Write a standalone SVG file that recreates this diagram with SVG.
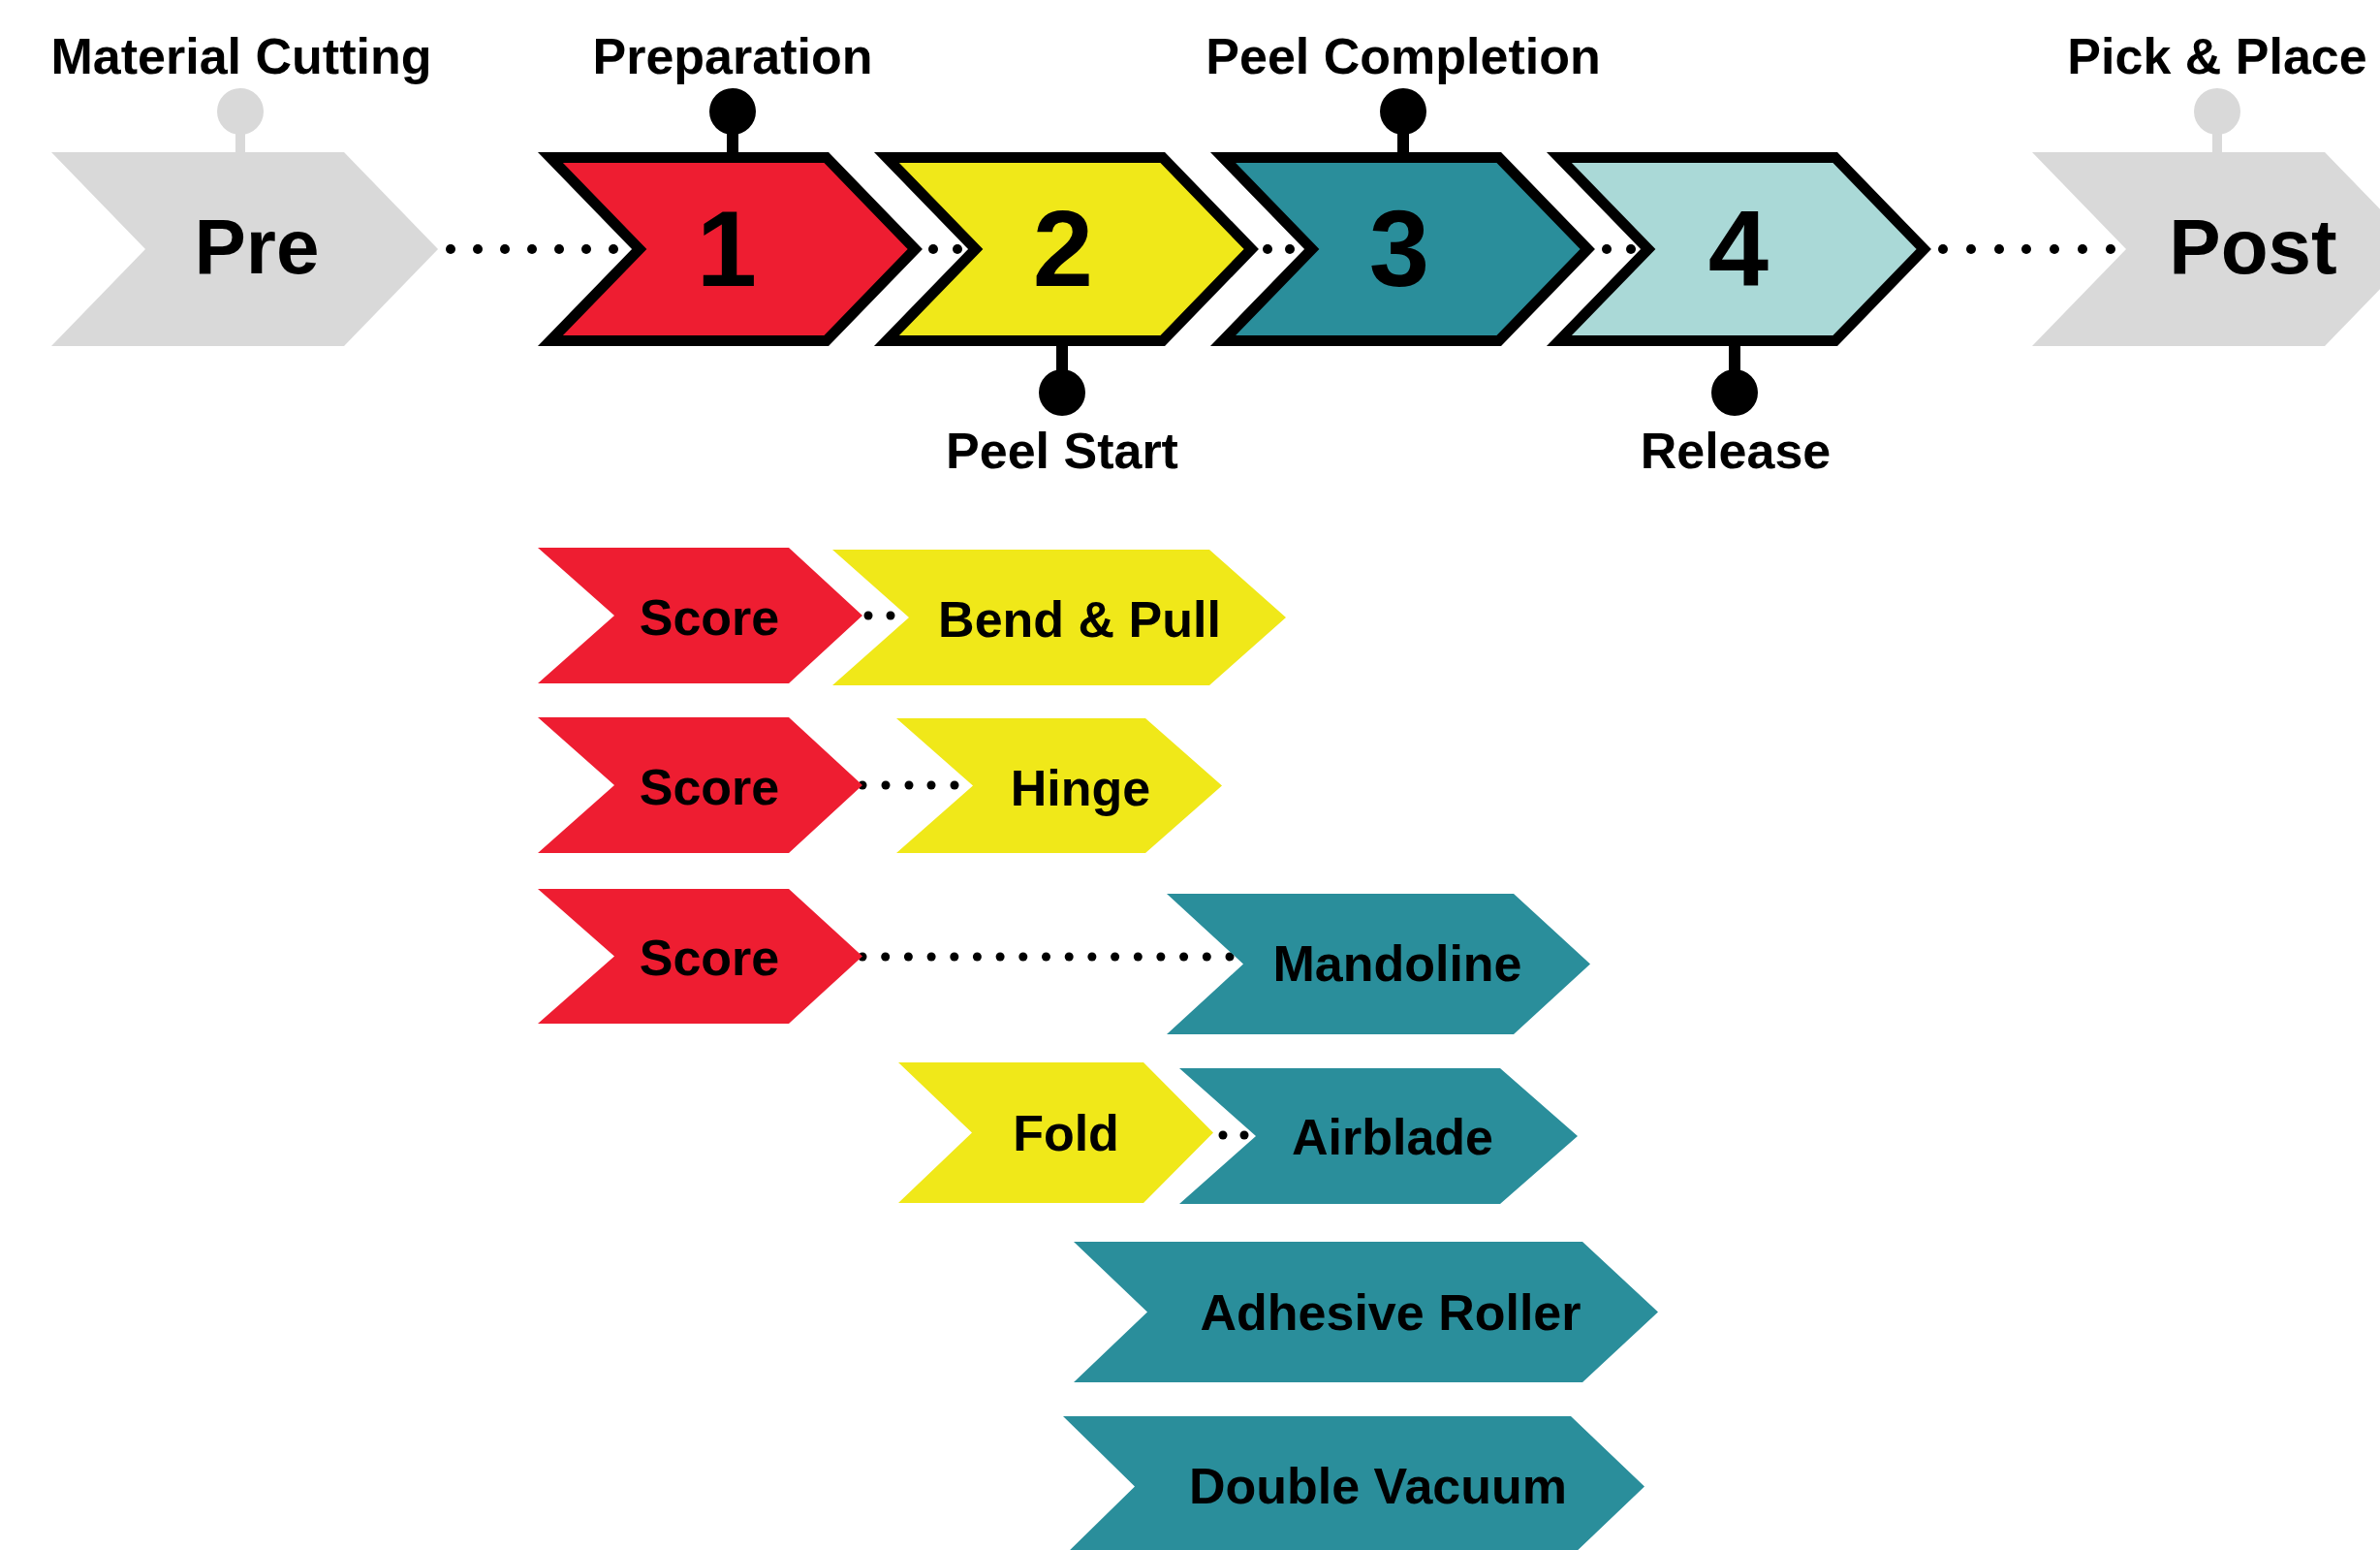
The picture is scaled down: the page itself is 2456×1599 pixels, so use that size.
<svg xmlns="http://www.w3.org/2000/svg" width="2456" height="1599" viewBox="0 0 2456 1599">
<style>
text{font-family:"Liberation Sans",Arial,Helvetica,sans-serif;font-weight:bold;fill:#000;text-anchor:middle}
.lbl{font-size:52px}
.num{font-size:112px}
.big{font-size:80px}
.sub{font-size:52px}
.bord{stroke:#000;stroke-width:11;stroke-linejoin:miter;stroke-miterlimit:10}
.red{fill:#EE1D31}
.yel{fill:#F0E819}
.teal{fill:#2A8E9B}
.lt{fill:#AAD9D7}
.gray{fill:#D9D9D9}
.dot{fill:#000}
.pinb{fill:#000}
.ping{fill:#D9D9D9}
</style>
<defs>
<path id="bigChev" d="M13,162.5 L297.7,162.5 L389.3,257 L297.7,351.5 L13,351.5 L104.7,257 Z"/>
<path id="grayChev" d="M0,157 L302,157 L399,257 L302,357 L0,357 L97,257 Z"/>
<circle id="dt" r="5"/>
<circle id="ds" r="4.5"/>
</defs>
<rect width="2456" height="1599" fill="#fff"/>

<g id="connectors" class="dot">
<g id="c-pre-1">
<use href="#dt" x="465" y="257"/><use href="#dt" x="493" y="257"/><use href="#dt" x="521" y="257"/><use href="#dt" x="549" y="257"/><use href="#dt" x="577" y="257"/><use href="#dt" x="605" y="257"/><use href="#dt" x="633" y="257"/>
</g>
<g id="c-1-2"><use href="#dt" x="963" y="257"/><use href="#dt" x="988" y="257"/></g>
<g id="c-2-3"><use href="#dt" x="1308" y="257"/><use href="#dt" x="1331" y="257"/></g>
<g id="c-3-4"><use href="#dt" x="1658" y="257"/><use href="#dt" x="1683" y="257"/></g>
<g id="c-4-post">
<use href="#dt" x="2005" y="257"/><use href="#dt" x="2034" y="257"/><use href="#dt" x="2063" y="257"/><use href="#dt" x="2091" y="257"/><use href="#dt" x="2120" y="257"/><use href="#dt" x="2149" y="257"/><use href="#dt" x="2178" y="257"/>
</g>
<g id="c-score-bend"><use href="#ds" x="896" y="635"/><use href="#ds" x="919" y="635"/></g>
<g id="c-score-hinge">
<use href="#ds" x="890" y="810"/><use href="#ds" x="914" y="810"/><use href="#ds" x="938" y="810"/><use href="#ds" x="961" y="810"/><use href="#ds" x="985" y="810"/>
</g>
<g id="c-score-mandoline">
<use href="#ds" x="890" y="987"/><use href="#ds" x="913.7" y="987"/><use href="#ds" x="937.4" y="987"/><use href="#ds" x="961.1" y="987"/><use href="#ds" x="984.8" y="987"/><use href="#ds" x="1008.4" y="987"/><use href="#ds" x="1032.1" y="987"/><use href="#ds" x="1055.8" y="987"/><use href="#ds" x="1079.5" y="987"/><use href="#ds" x="1103.2" y="987"/><use href="#ds" x="1126.9" y="987"/><use href="#ds" x="1150.6" y="987"/><use href="#ds" x="1174.3" y="987"/><use href="#ds" x="1197.9" y="987"/><use href="#ds" x="1221.6" y="987"/><use href="#ds" x="1245.3" y="987"/><use href="#ds" x="1269" y="987"/>
</g>
<g id="c-fold-airblade"><use href="#ds" x="1262" y="1171"/><use href="#ds" x="1284" y="1171"/></g>
</g>

<g id="node-pre">
<use href="#grayChev" class="gray" transform="translate(53,0)"/>
<rect class="ping" x="243" y="130" width="10" height="28"/>
<circle class="ping" cx="248" cy="115" r="24"/>
<text class="lbl" x="249" y="76">Material Cutting</text>
<text class="big" x="265" y="282">Pre</text>
</g>

<g id="node-1">
<use href="#bigChev" class="red bord" transform="translate(555,0)"/>
<rect x="750" y="130" width="12" height="30" fill="#000"/>
<circle class="pinb" cx="756" cy="115" r="24"/>
<text class="lbl" x="756" y="76">Preparation</text>
<text class="num" x="750" y="295">1</text>
</g>

<g id="node-2">
<use href="#bigChev" class="yel bord" transform="translate(902,0)"/>
<rect x="1090" y="352" width="12" height="36" fill="#000"/>
<circle class="pinb" cx="1096" cy="405" r="24"/>
<text class="lbl" x="1096" y="483">Peel Start</text>
<text class="num" x="1097" y="295">2</text>
</g>

<g id="node-3">
<use href="#bigChev" class="teal bord" transform="translate(1249,0)"/>
<rect x="1442" y="130" width="12" height="30" fill="#000"/>
<circle class="pinb" cx="1448" cy="115" r="24"/>
<text class="lbl" x="1448" y="76">Peel Completion</text>
<text class="num" x="1444" y="295">3</text>
</g>

<g id="node-4">
<use href="#bigChev" class="lt bord" transform="translate(1596,0)"/>
<rect x="1784" y="352" width="12" height="36" fill="#000"/>
<circle class="pinb" cx="1790" cy="405" r="24"/>
<text class="lbl" x="1791" y="483">Release</text>
<text class="num" x="1794" y="295">4</text>
</g>

<g id="node-post">
<use href="#grayChev" class="gray" transform="translate(2097,0)"/>
<rect class="ping" x="2283" y="130" width="10" height="28"/>
<circle class="ping" cx="2288" cy="115" r="24"/>
<text class="lbl" x="2288" y="76">Pick &amp; Place</text>
<text class="big" x="2325" y="282">Post</text>
</g>

<g id="node-score-1">
<polygon class="red" points="555,565 814,565 890,635 814,705 555,705 634,635"/>
<text class="sub" x="732" y="655">Score</text>
</g>
<g id="node-bend-pull">
<polygon class="yel" points="859,567 1248,567 1327,637 1248,707 859,707 938,637"/>
<text class="sub" x="1114" y="657">Bend &amp; Pull</text>
</g>

<g id="node-score-2">
<polygon class="red" points="555,740 814,740 890,810 814,880 555,880 634,810"/>
<text class="sub" x="732" y="830">Score</text>
</g>
<g id="node-hinge">
<polygon class="yel" points="925,741 1182,741 1261,810.5 1182,880 925,880 1004,810.5"/>
<text class="sub" x="1115" y="831">Hinge</text>
</g>

<g id="node-score-3">
<polygon class="red" points="555,917 814,917 890,986.5 814,1056 555,1056 634,986.5"/>
<text class="sub" x="732" y="1006">Score</text>
</g>
<g id="node-mandoline">
<polygon class="teal" points="1204,922 1562,922 1641,994.5 1562,1067 1204,1067 1283,994.5"/>
<text class="sub" x="1442" y="1012">Mandoline</text>
</g>

<g id="node-fold">
<polygon class="yel" points="927,1096 1180,1096 1252,1168.5 1180,1241 927,1241 1003,1168.5"/>
<text class="sub" x="1100" y="1187">Fold</text>
</g>
<g id="node-airblade">
<polygon class="teal" points="1217,1102 1548,1102 1628,1172 1548,1242 1217,1242 1296,1172"/>
<text class="sub" x="1437" y="1191">Airblade</text>
</g>

<g id="node-adhesive-roller">
<polygon class="teal" points="1108,1281 1633,1281 1711,1353.5 1633,1426 1108,1426 1184,1353.5"/>
<text class="sub" x="1435" y="1372">Adhesive Roller</text>
</g>

<g id="node-double-vacuum">
<polygon class="teal" points="1097,1461 1621,1461 1697,1533.5 1621,1606 1097,1606 1171,1533.5"/>
<text class="sub" x="1422" y="1551">Double Vacuum</text>
</g>
</svg>
